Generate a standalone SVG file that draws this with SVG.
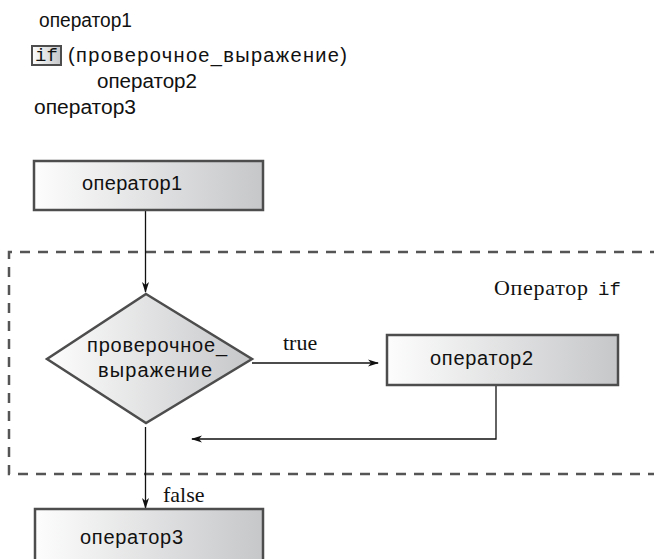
<svg xmlns="http://www.w3.org/2000/svg" width="654" height="559" viewBox="0 0 654 559">
<defs>
<linearGradient id="g" x1="0" y1="0" x2="1" y2="0">
<stop offset="0" stop-color="#fdfdfd"/>
<stop offset="1" stop-color="#c6c7c9"/>
</linearGradient>
<marker id="a" markerWidth="11" markerHeight="8" refX="10" refY="4" orient="auto" markerUnits="userSpaceOnUse">
<path d="M0,0.5 L11,4 L0,7.5 L3,4 Z" fill="#111"/>
</marker>
<style>
.s{font-family:"Liberation Sans",Arial,sans-serif;font-size:20px;fill:#111}
.t{font-family:"Liberation Serif","Times New Roman",serif;font-size:22px;fill:#111}
.m{font-family:"Liberation Mono","DejaVu Sans Mono",monospace;font-size:19px;fill:#111}
.box{fill:url(#g);stroke:#4d4d4d;stroke-width:2.5}
.c{fill:none;stroke:#111;stroke-width:1.3}
.d{fill:none;stroke:#555;stroke-width:2.5;stroke-dasharray:10 8}
</style>
</defs>
<g id="code">
<text class="s" x="39" y="27" textLength="93" lengthAdjust="spacingAndGlyphs">оператор1</text>
<rect x="32" y="46" width="29" height="19" fill="url(#g)" stroke="#4d4d4d" stroke-width="2"/>
<text class="m" x="35" y="61">if</text>
<text class="s" x="68" y="62" textLength="279">(проверочное_выражение)</text>
<text class="s" x="97" y="88" textLength="100" lengthAdjust="spacingAndGlyphs">оператор2</text>
<text class="s" x="34" y="114" textLength="102" lengthAdjust="spacingAndGlyphs">оператор3</text>
</g>
<g id="ifregion">
<path class="d" d="M660,252 H9 V474 H660"/>
<text class="t" x="494" y="295" textLength="94">Оператор</text>
<text class="m" x="598" y="295">if</text>
</g>
<g id="connectors">
<path class="c" d="M145.5,211 V292" marker-end="url(#a)"/>
<path class="c" d="M252,363 H378" marker-end="url(#a)"/>
<path class="c" d="M496,386 V439 H192" marker-end="url(#a)"/>
<path class="c" d="M145.5,427 V508" marker-end="url(#a)"/>
<text class="t" x="283" y="350">true</text>
<text class="t" x="163" y="502">false</text>
</g>
<g id="op1">
<rect class="box" x="34" y="161" width="229" height="49"/>
<text class="s" x="82" y="190" textLength="100">оператор1</text>
</g>
<g id="cond">
<path class="box" d="M146,294 L252,359 L146,423 L47,359 Z"/>
<text class="s" x="87" y="352" textLength="140">проверочное_</text>
<text class="s" x="98" y="377" textLength="114">выражение</text>
</g>
<g id="op2">
<rect class="box" x="387" y="335" width="231" height="50"/>
<text class="s" x="430" y="365" textLength="103">оператор2</text>
</g>
<g id="op3">
<rect class="box" x="35" y="509" width="228" height="60"/>
<text class="s" x="80" y="544" textLength="103">оператор3</text>
</g>
</svg>
